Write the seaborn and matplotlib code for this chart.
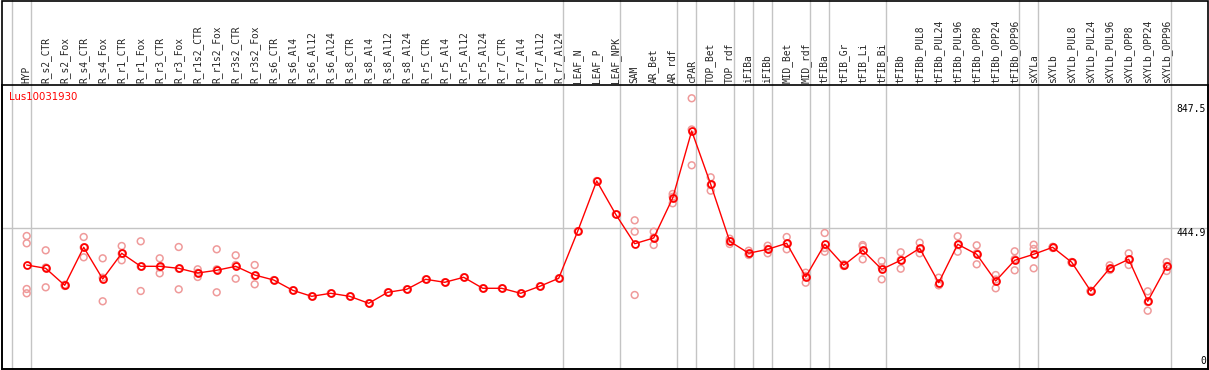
import matplotlib
matplotlib.use("Agg")
import matplotlib.pyplot as plt
import matplotlib.transforms as mtransforms
from matplotlib.patches import Rectangle
import seaborn as sns
import pandas as pd

samples = ["HYP", "R_s2_CTR", "R_s2_Fox", "R_s4_CTR", "R_s4_Fox", "R_r1_CTR", "R_r1_Fox",
           "R_r3_CTR", "R_r3_Fox", "R_r1s2_CTR", "R_r1s2_Fox", "R_r3s2_CTR", "R_r3s2_Fox",
           "R_s6_CTR", "R_s6_Al4", "R_s6_Al12", "R_s6_Al24", "R_s8_CTR", "R_s8_Al4", "R_s8_Al12",
           "R_s8_Al24", "R_r5_CTR", "R_r5_Al4", "R_r5_Al12", "R_r5_Al24", "R_r7_CTR", "R_r7_Al4",
           "R_r7_Al12", "R_r7_Al24", "LEAF_N", "LEAF_P", "LEAF_NPK", "SAM", "AR_Bet", "AR_rdf",
           "cPAR", "TOP_Bet", "TOP_rdf", "iFIBa", "iFIBb", "MID_Bet", "MID_rdf", "tFIBa",
           "tFIB_Gr", "tFIB_Li", "tFIB_Bi", "tFIBb", "tFIBb_PUL8", "tFIBb_PUL24", "tFIBb_PUL96",
           "tFIBb_OPP8", "tFIBb_OPP24", "tFIBb_OPP96", "sXYLa", "sXYLb", "sXYLb_PUL8",
           "sXYLb_PUL24", "sXYLb_PUL96", "sXYLb_OPP8", "sXYLb_OPP24", "sXYLb_OPP96"]

mean_values = [326.0, 315.3, 260.3, 383.4, 280.7, 363.9, 321.8,
               321.8, 315.3, 300.1, 308.9, 321.8, 293.6,
               277.4, 244.1, 224.6, 234.4, 224.6, 202.0, 237.6,
               247.3, 279.7, 270.0, 286.2, 250.6, 250.6, 234.4,
               257.0, 282.9, 435.5, 598.1, 490.2, 395.0, 413.5, 543.0,
               760.1, 587.4, 402.8, 364.2, 376.9, 396.3, 287.2, 393.1,
               325.1, 373.6, 312.1, 341.3, 380.1, 268.7, 393.1,
               360.7, 274.2, 341.3, 360.7, 383.4, 334.8,
               241.8, 315.3, 344.5, 208.5, 321.8]

replicates = [
    [420.0, 396.3, 248.3, 234.4], [373.6, 253.8, 318.0], [258.0, 262.0, 261.0],
    [416.7, 351.0, 383.0], [347.7, 208.5, 285.0], [387.6, 341.3, 363.0], [402.8, 241.8, 321.0],
    [347.7, 299.1, 318.0], [384.3, 247.3, 314.0], [312.1, 287.2, 301.0], [376.9, 237.6, 312.0],
    [357.4, 281.7, 326.0], [326.0, 263.5, 291.0],
    [277.4], [244.1], [224.6], [234.4], [224.6], [202.0], [237.6],
    [247.3], [279.7], [270.0], [286.2], [250.6], [250.6], [234.4],
    [257.0], [282.9], [435.5], [598.1], [490.2],
    [470.8, 433.9, 228.9], [433.9, 390.8, 415.0], [556.0, 525.9, 547.0],
    [866.0, 649.0, 765.0], [610.1, 566.7, 585.0], [411.2, 394.0, 403.0],
    [372.3, 358.4, 362.0], [388.5, 363.9, 378.0], [416.7, 376.9, 395.0],
    [301.1, 268.7, 291.0], [429.7, 369.1, 381.0],
    [328.3, 322.8, 325.0], [390.8, 344.5, 386.0], [339.0, 279.7, 318.0],
    [367.2, 314.0, 342.0], [398.3, 363.9, 378.0], [284.9, 260.3, 261.0],
    [419.0, 369.1, 391.0], [389.8, 328.3, 364.0], [293.6, 250.6, 279.0],
    [370.4, 308.9, 345.0], [391.8, 377.9, 315.3], [385.0, 381.0, 384.0],
    [336.0, 333.0, 335.0], [243.0, 240.0, 242.0], [325.1, 309.8, 311.0],
    [363.9, 326.0, 344.0], [240.8, 178.0, 206.0], [335.7, 306.6, 323.0],
]

gene_name = "Lus10031930"
axis_labels = [847.5, 444.9, 0]
separator_after = [-1, 0, 28, 31, 34, 35, 37, 38, 39, 41, 42, 45, 52, 53, 60]

idx = list(range(len(samples)))
mean_df = pd.DataFrame({"pos": idx, "value": mean_values})
rep_rows = [(i, v) for i, reps in enumerate(replicates) for v in reps]
rep_df = pd.DataFrame(rep_rows, columns=["pos", "value"])

sns.set_style("white")
plt.rcParams["font.family"] = ["DejaVu Sans"]

W, H = 1209, 370
fig = plt.figure(figsize=(W / 100, H / 100), dpi=100)
left_px, right_px, top_px, bottom_px = 1.5, 1208.0, 85.0, 369.0
ax_h_px = bottom_px - top_px
ax = fig.add_axes([left_px / W, 1 - bottom_px / H, (right_px - left_px) / W, ax_h_px / H])

x0_px, step_px = 26.7, 19.0
ax.set_xlim((left_px - x0_px) / step_px, (right_px - x0_px) / step_px)
ax.set_ylim(-10.8, 909.0)

grey = "#c4c4c4"
for s in separator_after:
    ax.axvline(s + 4.0 / step_px, ymin=0, ymax=bottom_px / ax_h_px, color=grey, lw=1.0,
               zorder=1, clip_on=False)
ax.axhline(axis_labels[1], color=grey, lw=1.0, zorder=1)

sns.scatterplot(data=rep_df, x="pos", y="value", ax=ax, marker="o", s=24,
                facecolor="none", edgecolor="#ef9a9a", linewidth=1.1, zorder=2, legend=False)
sns.lineplot(data=mean_df, x="pos", y="value", ax=ax, color="#ff0000", lw=1.0,
             marker="o", markersize=5.0, markerfacecolor="none", markeredgecolor="#ff0000",
             markeredgewidth=1.3, zorder=3, legend=False)

ax.xaxis.tick_top()
ax.set_xticks(idx)
ax.set_xticklabels(samples, rotation=90, fontsize=6.9, family="DejaVu Sans Mono")
ax.tick_params(axis="x", length=0, pad=1.5, top=True, bottom=False, labeltop=True, labelbottom=False)
ax.set_yticks([])
ax.set_xlabel("")
ax.set_ylabel("")

for sp in ax.spines.values():
    sp.set_visible(True)
    sp.set_color("black")
    sp.set_linewidth(1.2)

# outer frame of the whole image
fig.patches.append(Rectangle((left_px / W, 1 - bottom_px / H), (right_px - left_px) / W,
                             (bottom_px - 0.6) / H, transform=fig.transFigure,
                             fill=False, edgecolor="black", linewidth=1.2, zorder=5))

trans = mtransforms.blended_transform_factory(ax.transAxes, ax.transData)
for v in axis_labels:
    ax.text(0.9985, v, f"{v:g}" if v == 0 else f"{v}", transform=trans, ha="right",
            va="bottom" if v == 0 else "top", fontsize=7.0, family="DejaVu Sans Mono", color="black")

ax.text(0.0065, 0.975, gene_name, transform=ax.transAxes, ha="left", va="top",
        fontsize=7.3, color="#ff0000")

fig.savefig("out.png", dpi=100)
